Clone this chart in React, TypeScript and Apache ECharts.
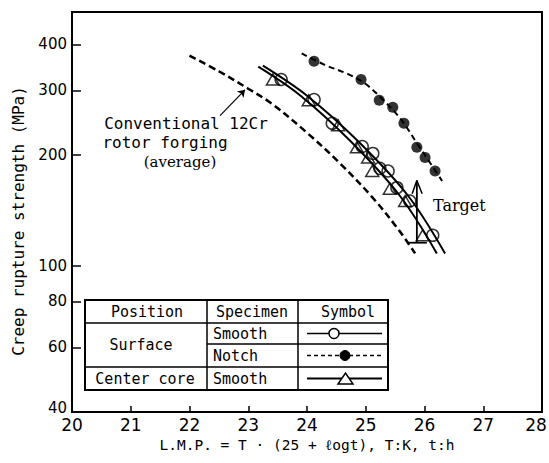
import React, { useEffect, useRef } from "react";
import * as echarts from "echarts";

// ---- data ----
const yTickValues = [40, 60, 80, 100, 200, 300, 400];

const conventionalCurve = [
  [22.0, 373], [22.5, 338], [23.0, 303], [23.4, 276], [24.0, 230],
  [24.56, 190], [25.12, 153], [25.58, 124], [25.84, 108],
];
const centerCoreCurve = [
  [23.17, 348], [23.88, 291], [24.73, 219], [25.58, 155], [26.21, 108],
];
const surfaceSmoothCurve = [
  [23.25, 350], [24.0, 290], [24.87, 218], [25.72, 155], [26.35, 108],
];
const surfaceNotchCurve = [
  [23.91, 378], [24.3, 352], [24.7, 332], [25.0, 312], [25.3, 282],
  [25.6, 250], [25.9, 212], [26.1, 190], [26.3, 170],
];

const centerCorePoints = [
  [23.42, 321], [24.03, 282], [24.53, 241], [24.85, 210], [25.04, 197],
  [25.11, 181], [25.41, 162], [25.67, 150], [25.97, 121],
];
const surfaceSmoothPoints = [
  [23.56, 321], [24.12, 283], [24.43, 244], [24.94, 211], [25.12, 202],
  [25.24, 184], [25.38, 181], [25.53, 163], [25.75, 150], [26.14, 121],
];
const surfaceNotchPoints = [
  [24.12, 360], [24.92, 321], [25.23, 282], [25.46, 270], [25.65, 244],
  [25.87, 210], [26.01, 197], [26.18, 181],
];

const conventionalPointer = [[22.52, 256], [22.945, 301]];
const targetShaft = [[25.87, 115.5], [25.87, 170.5]];
const targetBase = [[25.72, 115.5], [26.04, 115.5]];
const targetHead = [[25.79, 157], [25.87, 170.5], [25.96, 157]];

const MONO = "'DejaVu Sans Mono', monospace";
const SANS = "'DejaVu Sans', sans-serif";
const SERIF = "'DejaVu Serif', serif";

function txt(text: string, x: number, y: number, size: number, family: string, align = "center") {
  return {
    type: "text",
    x,
    y,
    z: 100,
    style: {
      text,
      fill: "#000",
      fontSize: size,
      fontFamily: family,
      align,
      textAlign: align,
      verticalAlign: "middle",
      textVerticalAlign: "middle",
    },
  };
}
function seg(x1: number, y1: number, x2: number, y2: number, w = 1.5, dash?: number[]) {
  return {
    type: "line",
    z: 100,
    shape: { x1, y1, x2, y2 },
    style: { stroke: "#000", lineWidth: w, lineDash: dash },
  };
}

export default function App() {
  const ref = useRef<HTMLDivElement>(null);
  useEffect(() => {
    if (!ref.current) return;
    const chart = echarts.init(ref.current, undefined, { renderer: "svg" });
    const lineS = (data: number[][], width: number, type: any) => ({
      type: "line",
      data,
      smooth: 0.35,
      symbol: "none",
      showSymbol: false,
      silent: true,
      lineStyle: { color: "#000", width, type },
    });
    const plain = (data: number[][], width: number) => ({
      type: "line",
      data,
      smooth: false,
      symbol: "none",
      showSymbol: false,
      silent: true,
      lineStyle: { color: "#000", width },
    });
    chart.setOption({
      animation: false,
      backgroundColor: "#fff",
      grid: {
        left: 72, right: 7, top: 12, bottom: 51,
        show: true, borderColor: "#000", borderWidth: 2,
        containLabel: false, outerBoundsMode: "none",
      },
      xAxis: {
        type: "value",
        min: 20, max: 28, interval: 1,
        name: "L.M.P. = T · (25 + ℓogt), T:K, t:h",
        nameLocation: "middle",
        nameGap: 22,
        nameTextStyle: { fontSize: 14.5, fontFamily: MONO, color: "#000" },
        axisLine: { lineStyle: { color: "#000", width: 2 } },
        axisTick: { inside: true, length: 6, lineStyle: { color: "#000", width: 1.5 } },
        axisLabel: {
          fontSize: 17, fontFamily: SANS, color: "#000", margin: 4,
          formatter: (v: number) => (v === 28 ? "{e|28}" : String(v)),
          rich: { e: { fontSize: 17, fontFamily: SANS, color: "#000", padding: [0, 12, 0, 0] } },
        },
        splitLine: { show: false },
      },
      yAxis: {
        type: "log",
        logBase: 10,
        min: 40, max: 490,
        name: "Creep rupture strength (MPa)",
        nameLocation: "middle",
        nameRotate: 90,
        nameGap: 46,
        nameTextStyle: { fontSize: 16, fontFamily: MONO, color: "#000", padding: [0, 18, 0, 0] },
        axisLine: { lineStyle: { color: "#000", width: 2 } },
        axisTick: { inside: true, length: 9, customValues: yTickValues, lineStyle: { color: "#000", width: 1.5 } },
        axisLabel: {
          fontSize: 15, fontFamily: SANS, color: "#000", margin: 5, customValues: yTickValues,
          formatter: (v: number) => (v === 40 ? "{b|40}" : String(v)),
          rich: { b: { fontSize: 15, fontFamily: SANS, color: "#000", padding: [0, 0, 9, 0] } },
        },
        splitLine: { show: false },
        minorTick: { show: false },
      },
      graphic: [
        txt("Conventional 12Cr", 186, 123, 16, MONO),
        txt("rotor forging", 165, 142, 16, MONO),
        txt("(average)", 180, 162, 15, SERIF),
        txt("Target", 433, 205, 16, SERIF, "left"),
        {
          type: "rect",
          z: 99,
          shape: { x: 85, y: 300, width: 303, height: 90 },
          style: { fill: "#fff", stroke: "#000", lineWidth: 2 },
        },
        seg(85, 323, 388, 323, 1.5),
        seg(207, 344, 388, 344, 1.5),
        seg(85, 367, 388, 367, 1.5),
        seg(207, 300, 207, 390, 1.5),
        seg(298, 300, 298, 390, 1.5),
        txt("Position", 147, 312, 15, MONO),
        txt("Specimen", 252, 312, 15, MONO),
        txt("Symbol", 348, 312, 15, MONO),
        txt("Surface", 141, 345, 15, MONO),
        txt("Smooth", 213, 333.5, 15, MONO, "left"),
        txt("Notch", 213, 355.5, 15, MONO, "left"),
        txt("Center core", 145, 378.5, 15, MONO),
        txt("Smooth", 213, 378.5, 15, MONO, "left"),
        seg(307, 333.5, 382, 333.5, 1.5),
        {
          type: "circle", z: 101,
          shape: { cx: 334, cy: 333.5, r: 5 },
          style: { fill: "#fff", stroke: "#000", lineWidth: 1.5 },
        },
        seg(307, 355.5, 382, 355.5, 1.5, [4, 3]),
        {
          type: "circle", z: 101,
          shape: { cx: 345, cy: 355.5, r: 5 },
          style: { fill: "#000", stroke: "#000", lineWidth: 1 },
        },
        seg(307, 378.5, 382, 378.5, 2),
        {
          type: "polygon", z: 101,
          shape: { points: [[338, 384], [353, 384], [345.5, 373]] },
          style: { fill: "#fff", stroke: "#000", lineWidth: 1.5 },
        },
      ],
      series: [
        { name: "Conventional 12Cr rotor forging (average)", ...lineS(conventionalCurve, 2.5, [7, 4]) },
        { name: "Center core smooth curve", ...lineS(centerCoreCurve, 2, "solid") },
        { name: "Surface smooth curve", ...lineS(surfaceSmoothCurve, 2, "solid") },
        { name: "Surface notch curve", ...lineS(surfaceNotchCurve, 2, [6, 4]) },
        {
          name: "Center core Smooth",
          type: "scatter",
          data: centerCorePoints,
          symbol: "triangle",
          symbolSize: [13, 11],
          itemStyle: { color: "rgba(255,255,255,0)", borderColor: "#000", borderWidth: 1.5 },
        },
        {
          name: "Surface Smooth",
          type: "scatter",
          data: surfaceSmoothPoints,
          symbol: "circle",
          symbolSize: 12,
          itemStyle: { color: "rgba(255,255,255,0)", borderColor: "#000", borderWidth: 1.5 },
        },
        {
          name: "Surface Notch",
          type: "scatter",
          data: surfaceNotchPoints,
          symbol: "circle",
          symbolSize: 11,
          itemStyle: { color: "#000" },
        },
        {
          type: "lines",
          coordinateSystem: "cartesian2d",
          symbol: ["none", "arrow"],
          symbolSize: 7,
          silent: true,
          lineStyle: { color: "#000", width: 1.2, opacity: 1 },
          data: [{ coords: conventionalPointer }],
        },
        plain(targetShaft, 1.8),
        plain(targetBase, 1.8),
        plain(targetHead, 1.5),
      ],
    });
    return () => chart.dispose();
  }, []);
  return (
    <div
      ref={ref}
      style={{ position: "absolute", left: 0, top: 0, width: 549, height: 463, background: "#fff" }}
    />
  );
}
